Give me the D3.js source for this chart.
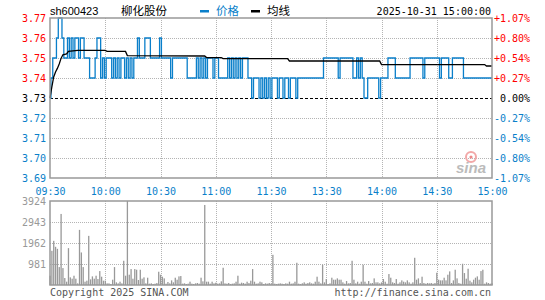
<!DOCTYPE html>
<html><head><meta charset="utf-8">
<script src="https://cdn.jsdelivr.net/npm/d3@7"></script>
<style>body{margin:0;background:#fff}svg{display:block}</style>
</head><body><svg id="c" width="545" height="300"></svg>
<script>
const stockCode = "sh600423";
const stockName = "柳化股份";
const dateText = "2025-10-31 15:00:00";
const legendLabels = ["价格", "均线"];
const timeIdx = [0, 30, 60, 90, 120, 150, 180, 210, 240];
const timeLabels = ["09:30","10:00","10:30","11:00","11:30","13:30","14:00","14:30","15:00"];
const priceTicks = [3.77, 3.76, 3.75, 3.74, 3.73, 3.72, 3.71, 3.70, 3.69];
const pctLabels = ["+1.07%","+0.80%","+0.54%","+0.27%","0.00%","-0.27%","-0.54%","-0.80%","-1.07%"];
const prevClose = 3.73;
const volTicks = [3924, 2943, 1962, 981];
const volMax = 3924;
const footerLeft = "Copyright 2025 SINA.COM";
const footerRight = "http://finance.sina.com.cn";

const prices = [
3.73,3.74,3.75,3.75,3.76,3.77,3.77,3.76,3.75,3.75,
3.76,3.75,3.76,3.75,3.76,3.76,3.75,3.76,3.76,3.75,
3.75,3.75,3.74,3.74,3.74,3.75,3.76,3.76,3.74,3.75,
3.74,3.75,3.75,3.75,3.74,3.75,3.74,3.75,3.74,3.75,
3.75,3.74,3.75,3.74,3.75,3.74,3.75,3.75,3.76,3.75,
3.75,3.75,3.76,3.76,3.76,3.75,3.75,3.75,3.75,3.75,
3.76,3.75,3.75,3.75,3.75,3.75,3.74,3.75,3.75,3.75,
3.75,3.75,3.75,3.75,3.75,3.74,3.74,3.74,3.74,3.74,
3.75,3.74,3.75,3.74,3.75,3.74,3.75,3.75,3.75,3.74,
3.75,3.75,3.74,3.74,3.74,3.74,3.74,3.75,3.74,3.75,
3.74,3.75,3.74,3.75,3.74,3.75,3.75,3.75,3.74,3.74,
3.73,3.74,3.74,3.74,3.73,3.74,3.73,3.74,3.73,3.74,
3.73,3.74,3.74,3.74,3.73,3.74,3.74,3.73,3.74,3.74,
3.73,3.74,3.74,3.74,3.73,3.74,3.74,3.74,3.74,3.74,
3.74,3.74,3.74,3.74,3.74,3.74,3.74,3.74,3.74,3.75,
3.75,3.75,3.75,3.75,3.75,3.75,3.75,3.74,3.75,3.75,
3.75,3.75,3.75,3.75,3.75,3.74,3.74,3.75,3.74,3.75,
3.74,3.73,3.73,3.74,3.74,3.74,3.74,3.74,3.74,3.73,
3.74,3.74,3.74,3.74,3.75,3.75,3.75,3.75,3.74,3.74,
3.74,3.74,3.74,3.74,3.74,3.74,3.75,3.75,3.75,3.75,
3.75,3.75,3.75,3.74,3.75,3.75,3.75,3.75,3.75,3.75,
3.75,3.75,3.74,3.75,3.75,3.75,3.75,3.74,3.74,3.75,
3.75,3.75,3.75,3.75,3.75,3.74,3.74,3.74,3.74,3.74,
3.74,3.74,3.74,3.74,3.74,3.74,3.74,3.74,3.74,3.74,3.74
];

const volumes = [
434,1598,2063,1784,1690,837,3319,791,326,155,
1722,357,295,434,295,78,2575,1520,837,155,
202,2295,264,403,295,434,279,651,388,202,
202,78,78,47,248,837,124,78,155,78,
1132,434,3924,481,744,295,744,713,233,713,
295,357,78,341,62,78,47,62,93,620,
481,388,310,62,140,78,217,124,341,248,
403,419,62,78,47,62,155,62,47,78,
93,62,341,171,3738,155,155,62,155,78,
109,62,78,171,806,78,62,93,47,62,
78,155,434,62,109,93,62,155,93,202,
744,155,62,78,155,124,47,78,62,93,
62,1411,62,47,62,78,62,47,78,62,
155,62,78,155,1039,62,47,78,124,62,
93,124,78,62,155,388,155,78,946,124,
279,47,78,341,248,248,310,248,248,124,
62,186,78,93,1132,248,78,155,62,155,
946,155,62,186,78,93,310,124,124,78,
124,279,155,62,512,341,124,93,279,62,
124,217,155,124,217,124,62,124,1272,248,
310,93,388,93,62,93,78,93,62,93,
574,248,217,217,341,217,481,636,93,217,
713,310,93,62,992,558,295,760,202,124,
248,341,403,248,651,713,62,124,93,62,78
];

const avgIdx = [0,1,2,3,4,5,6,7,9,10,15,30,31,41,42,84,85,93,94,129,130,179,180,236,237,240];
const avgVal = [3.730,3.7355,3.7405,3.743,3.7448,3.747,3.7498,3.7516,3.752,3.7533,3.7538,3.7538,3.7533,3.7533,3.7512,3.7510,3.7502,3.7502,3.7497,3.7497,3.7485,3.7485,3.7467,3.7467,3.7460,3.7460];

const L = 50, R = 492, T = 18, B = 178, VT = 201, VB = 285;
const RED = "#ff0000", BLUE = "#0a7fca", GRID = "#b4b4b4", FRAME = "#999";
const mono = "'DejaVu Sans Mono','Liberation Mono',monospace";

const svg = d3.select("#c");
const x = d3.scaleLinear().domain([0, 240]).range([L, R]);
const y = d3.scaleLinear().domain([3.69, 3.77]).range([B, T]);
const yv = d3.scaleLinear().domain([0, volMax]).range([VB, VT]);
const px = v => Math.round(v) + 0.5;

// header
svg.append("text").attr("x", 50).attr("y", 15).attr("font-family", "'Liberation Sans',Arial,sans-serif")
  .attr("font-size", 11).attr("fill", "#000").text(stockCode);
svg.append("text").attr("x", 121).attr("y", 15).attr("font-family", "'Noto Sans CJK SC',sans-serif")
  .attr("font-size", 11.5).attr("fill", "#000").text(stockName);
svg.append("rect").attr("x", 200).attr("y", 10).attr("width", 9).attr("height", 2.5).attr("fill", BLUE);
svg.append("text").attr("x", 216).attr("y", 15).attr("font-family", "'Noto Sans CJK SC',sans-serif")
  .attr("font-size", 11.5).attr("fill", BLUE).text(legendLabels[0]);
svg.append("rect").attr("x", 251).attr("y", 10).attr("width", 9).attr("height", 2.5).attr("fill", "#000");
svg.append("text").attr("x", 267).attr("y", 15).attr("font-family", "'Noto Sans CJK SC',sans-serif")
  .attr("font-size", 11.5).attr("fill", "#000").text(legendLabels[1]);
svg.append("text").attr("x", 491).attr("y", 15).attr("text-anchor", "end").attr("font-family", mono)
  .attr("font-size", 10).attr("fill", "#000").text(dateText);

// grid
const grid = svg.append("g").attr("stroke", GRID).attr("stroke-dasharray", "1,1").attr("shape-rendering", "crispEdges");
priceTicks.filter(d => d < 3.7695 && d > 3.6905 && Math.abs(d - prevClose) > 1e-6).forEach(d => {
  grid.append("line").attr("x1", L).attr("x2", R).attr("y1", px(y(d))).attr("y2", px(y(d)));
});
timeIdx.slice(1, -1).forEach(d => {
  grid.append("line").attr("x1", px(x(d))).attr("x2", px(x(d))).attr("y1", T).attr("y2", B);
  grid.append("line").attr("x1", px(x(d))).attr("x2", px(x(d))).attr("y1", VT).attr("y2", VB);
});
volTicks.slice(1).forEach(d => {
  grid.append("line").attr("x1", L).attr("x2", R).attr("y1", px(yv(d))).attr("y2", px(yv(d)));
});

// prev close dashed
svg.append("line").attr("x1", L).attr("x2", R).attr("y1", px(y(prevClose))).attr("y2", px(y(prevClose)))
  .attr("stroke", "#000").attr("stroke-dasharray", "3,2").attr("shape-rendering", "crispEdges");

// sina watermark
const wm = svg.append("g");
wm.append("circle").attr("cx", 471).attr("cy", 157).attr("r", 5).attr("fill", "none").attr("stroke", "#f2a8a8").attr("stroke-width", 2);
wm.append("circle").attr("cx", 471).attr("cy", 157).attr("r", 1.6).attr("fill", "#e88");
wm.append("text").attr("x", 456).attr("y", 173).attr("font-family", "'Liberation Sans',Arial,sans-serif")
  .attr("font-size", 15).attr("font-style", "italic").attr("font-weight", "bold").attr("fill", "#bbb").text("sina");

// volume bars
svg.append("g").selectAll("rect").data(volumes).join("rect")
  .attr("x", (d, i) => x(i) - 0.6).attr("width", 1.3)
  .attr("y", d => yv(d)).attr("height", d => VB - yv(d)).attr("fill", "#999");

// price line
svg.append("path").datum(prices)
  .attr("d", d3.line().x((d, i) => x(i)).y(d => y(d)).curve(d3.curveStep))
  .attr("fill", "none").attr("stroke", BLUE).attr("stroke-width", 1.3);

// average line
svg.append("path").datum(avgIdx.map((d, i) => [d, avgVal[i]]))
  .attr("d", d3.line().x(d => x(d[0])).y(d => y(d[1])))
  .attr("fill", "none").attr("stroke", "#000").attr("stroke-width", 1.3);

// frames
svg.append("rect").attr("x", L).attr("y", T).attr("width", R - L).attr("height", B - T)
  .attr("fill", "none").attr("stroke", FRAME).attr("stroke-width", 1.5);
svg.append("rect").attr("x", L).attr("y", VT).attr("width", R - L).attr("height", VB - VT)
  .attr("fill", "none").attr("stroke", FRAME).attr("stroke-width", 1.5);

// axes
const colorFor = d => d > prevClose + 1e-6 ? RED : (d < prevClose - 1e-6 ? BLUE : "#000");
svg.append("g").attr("transform", `translate(${L},0)`)
  .call(d3.axisLeft(y).tickValues(priceTicks).tickFormat(d3.format(".2f")).tickSize(0).tickPadding(4))
  .call(g => g.select(".domain").remove())
  .attr("font-family", mono).attr("font-size", 10)
  .selectAll("text").attr("fill", d => colorFor(d));

svg.append("g").attr("transform", `translate(${R},0)`)
  .call(d3.axisRight(y).tickValues(priceTicks).tickFormat((d, i) => pctLabels[i]).tickSize(0).tickPadding(2))
  .call(g => g.select(".domain").remove())
  .attr("font-family", mono).attr("font-size", 10)
  .selectAll("text").attr("text-anchor", "end").attr("x", 38).attr("fill", d => colorFor(d));

svg.append("g").attr("transform", `translate(0,${B})`)
  .call(d3.axisBottom(x).tickValues(timeIdx).tickFormat((d, i) => timeLabels[i]).tickSize(0).tickPadding(10))
  .call(g => g.select(".domain").remove())
  .attr("font-family", mono).attr("font-size", 10)
  .selectAll("text").attr("fill", BLUE);

svg.append("g").attr("transform", `translate(${L},0)`)
  .call(d3.axisLeft(yv).tickValues(volTicks).tickFormat(d3.format("d")).tickSize(0).tickPadding(4))
  .call(g => g.select(".domain").remove())
  .attr("font-family", mono).attr("font-size", 10)
  .selectAll("text").attr("fill", "#999");

// footer
svg.append("text").attr("x", 50).attr("y", 296).attr("font-family", mono).attr("font-size", 10)
  .attr("fill", "#555").text(footerLeft);
svg.append("text").attr("x", 491).attr("y", 296).attr("text-anchor", "end").attr("font-family", mono).attr("font-size", 10)
  .attr("fill", "#555").text(footerRight);
</script></body></html>
